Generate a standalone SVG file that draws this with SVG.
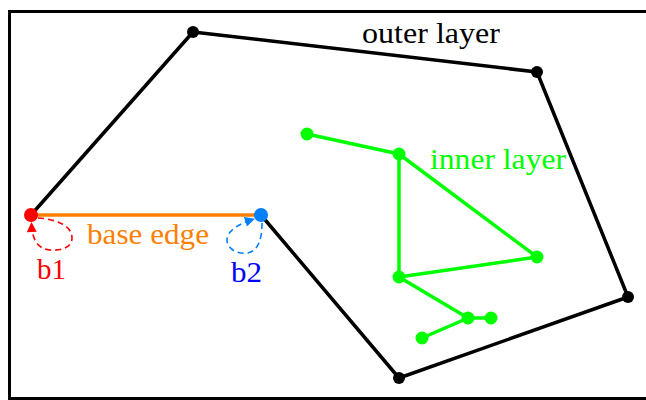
<svg xmlns="http://www.w3.org/2000/svg" width="646" height="400" viewBox="0 0 646 400">
<style>
.t{font-family:"Liberation Serif","DejaVu Serif",serif;font-size:29px}
.blk{stroke:#000;stroke-width:3.5;fill:none;stroke-linecap:round;stroke-linejoin:round}
.grn{stroke:#00ff00;stroke-width:3.5;fill:none;stroke-linecap:round}
.dash{fill:none;stroke-width:1.6;stroke-dasharray:6 4}
</style>
<defs>
<marker id="ar" viewBox="0 0 10 10" refX="9" refY="5" markerWidth="11" markerHeight="10" markerUnits="userSpaceOnUse" orient="auto"><path d="M0,0 L10,5 L0,10 z" fill="#ff0000"/></marker>
<marker id="ab" viewBox="0 0 10 10" refX="9" refY="5" markerWidth="11" markerHeight="10" markerUnits="userSpaceOnUse" orient="auto"><path d="M0,0 L10,5 L0,10 z" fill="#0080ff"/></marker>
</defs>
<rect x="9.5" y="11.5" width="660" height="387" fill="none" stroke="#000" stroke-width="3"/>
<g id="connectors">
<polyline class="blk" points="31,215 193,32 537,72 628,297 399,378 261,215"/>
<line x1="31" y1="215" x2="261" y2="215" stroke="#ff8000" stroke-width="3.5"/>
<line class="grn" x1="307" y1="134" x2="399" y2="154"/>
<line class="grn" x1="399" y1="154" x2="537" y2="257"/>
<line class="grn" x1="399" y1="154" x2="399" y2="277"/>
<line class="grn" x1="399" y1="277" x2="537" y2="257"/>
<line class="grn" x1="399" y1="277" x2="468" y2="318"/>
<line class="grn" x1="468" y1="318" x2="491" y2="318"/>
<line class="grn" x1="468" y1="318" x2="422" y2="338"/>
<path class="dash" stroke="#ff0000" d="M38,218 C55,219 72,225 72,238 C72,248 60,251 50,250 C38,249 32,240 31.5,223" marker-end="url(#ar)"/>
<path class="dash" stroke="#0080ff" d="M262,223 C262,235 260,250 248,253 C235,255 227,247 227,240 C227,231 238,224 254,219" marker-end="url(#ab)"/>
</g>
<g id="n-b1"><circle cx="31" cy="215" r="7" fill="#ff0000"/></g>
<g id="n-b2"><circle cx="261" cy="215" r="7" fill="#0080ff"/></g>
<g id="n-o1"><circle cx="193" cy="32" r="6" fill="#000"/></g>
<g id="n-o2"><circle cx="537" cy="72" r="6" fill="#000"/></g>
<g id="n-o3"><circle cx="628" cy="297" r="6" fill="#000"/></g>
<g id="n-o4"><circle cx="399" cy="378" r="6" fill="#000"/></g>
<g id="n-i1"><circle cx="307" cy="134" r="6.5" fill="#00ff00"/></g>
<g id="n-i2"><circle cx="399" cy="154" r="6.5" fill="#00ff00"/></g>
<g id="n-i3"><circle cx="537" cy="257" r="6.5" fill="#00ff00"/></g>
<g id="n-i4"><circle cx="399" cy="277" r="6.5" fill="#00ff00"/></g>
<g id="n-i5"><circle cx="468" cy="318" r="6.5" fill="#00ff00"/></g>
<g id="n-i6"><circle cx="491" cy="318" r="6.5" fill="#00ff00"/></g>
<g id="n-i7"><circle cx="422" cy="338" r="6.5" fill="#00ff00"/></g>
<g id="labels">
<text class="t" x="362" y="43" textLength="138" lengthAdjust="spacingAndGlyphs">outer layer</text>
<text class="t" x="430" y="169" textLength="136" lengthAdjust="spacingAndGlyphs" fill="#00ff00">inner layer</text>
<text class="t" x="87" y="244" textLength="122" lengthAdjust="spacingAndGlyphs" fill="#ff8000">base edge</text>
<text class="t" x="37" y="279" textLength="29" lengthAdjust="spacingAndGlyphs" fill="#ff0000">b1</text>
<text class="t" x="231" y="282" textLength="31" lengthAdjust="spacingAndGlyphs" fill="#0000ff">b2</text>
</g>
</svg>
